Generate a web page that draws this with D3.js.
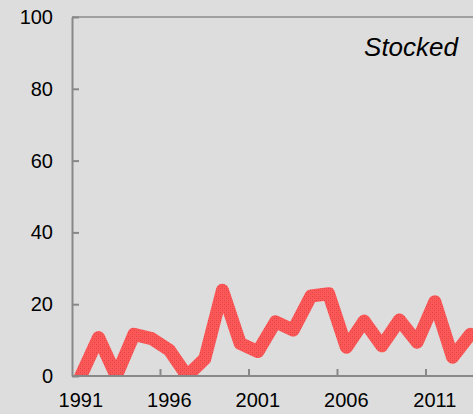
<!DOCTYPE html>
<html>
<head>
<meta charset="utf-8">
<script src="https://cdn.jsdelivr.net/npm/d3@7"></script>
<style>
  html, body { margin: 0; padding: 0; background: #dddddd; overflow: hidden; }
  svg { display: block; font-family: "Liberation Sans", Arial, sans-serif; }
</style>
</head>
<body>
<div id="chart"></div>
<script>
  // values
  var years = [1991, 1992, 1993, 1994, 1995, 1996, 1997, 1998, 1999, 2000, 2001, 2002,
               2003, 2004, 2005, 2006, 2007, 2008, 2009, 2010, 2011, 2012, 2013];
  var stocked = [0, 10.7, 0, 11.6, 10.4, 7.2, 0, 4.8, 23.9, 9.1, 6.8, 15.1,
                 12.8, 22.3, 22.9, 8, 15.3, 8.4, 15.6, 9.4, 20.7, 5.2, 11.6];
  var yTicks = [0, 20, 40, 60, 80, 100];
  var xLabelYears = [1991, 1996, 2001, 2006, 2011];
  var seriesLabel = "Stocked";

  (function () {
    var width = 473, height = 414;
    var plotLeft = 72, plotTop = 17, plotBottom = 376;
    var bandW = 17.7;

    var svg = d3.select('#chart').append('svg')
        .attr('width', width)
        .attr('height', height);

    svg.append('rect').attr('width', width).attr('height', height).attr('fill', '#dddddd');

    // dotted red fill used by the line
    var defs = svg.append('defs');
    var pat = defs.append('pattern')
        .attr('id', 'redDots')
        .attr('patternUnits', 'userSpaceOnUse')
        .attr('width', 4).attr('height', 4);
    pat.append('rect').attr('width', 4).attr('height', 4).attr('fill', '#ff5858');
    pat.append('rect').attr('x', 0).attr('y', 0).attr('width', 1).attr('height', 1).attr('fill', '#dc4646');
    pat.append('rect').attr('x', 2).attr('y', 2).attr('width', 1).attr('height', 1).attr('fill', '#dc4646');
    pat.append('rect').attr('x', 2).attr('y', 0).attr('width', 1).attr('height', 1).attr('fill', '#ee5050');
    pat.append('rect').attr('x', 0).attr('y', 2).attr('width', 1).attr('height', 1).attr('fill', '#ee5050');

    defs.append('clipPath').attr('id', 'plotClip')
      .append('rect')
        .attr('x', plotLeft).attr('y', 0)
        .attr('width', width).attr('height', plotBottom);

    var x = d3.scaleBand()
        .domain(years)
        .range([plotLeft, plotLeft + bandW * years.length]);

    var y = d3.scaleLinear()
        .domain([0, 100])
        .range([plotBottom, plotTop]);

    // top border of the plot area
    svg.append('line')
        .attr('x1', plotLeft).attr('x2', width + 10)
        .attr('y1', y(100)).attr('y2', y(100))
        .attr('stroke', '#a0a0a0')
        .attr('stroke-width', 2);

    var line = d3.line()
        .x((d, i) => x(years[i]) + x.bandwidth() / 2)
        .y(d => y(d));

    svg.append('g')
        .attr('clip-path', 'url(#plotClip)')
      .append('path')
        .datum(stocked)
        .attr('d', line)
        .attr('fill', 'none')
        .attr('stroke', 'url(#redDots)')
        .attr('stroke-width', 13)
        .attr('stroke-linejoin', 'round')
        .attr('stroke-linecap', 'round');

    // y axis, ticks pointing inwards
    var yAxis = svg.append('g')
        .attr('transform', 'translate(' + plotLeft + ',0)')
        .call(d3.axisLeft(y).tickValues(yTicks).tickSizeInner(-7).tickSizeOuter(0).tickPadding(19));
    yAxis.select('.domain').attr('stroke', '#888888').attr('stroke-width', 2);
    yAxis.selectAll('.tick line').attr('stroke', '#888888').attr('stroke-width', 2);
    yAxis.selectAll('.tick text')
        .attr('font-size', '20px')
        .attr('fill', '#000')
        .attr('font-family', '"Liberation Sans", Arial, sans-serif');

    // x axis: labels centred on categories, ticks on category edges
    var xAxis = svg.append('g')
        .attr('transform', 'translate(0,' + plotBottom + ')')
        .call(d3.axisBottom(x).tickValues(xLabelYears).tickSize(0).tickPadding(17));
    xAxis.select('.domain').attr('stroke', '#888888').attr('stroke-width', 2)
        .attr('d', 'M' + plotLeft + ',0H' + (width + 20));
    xAxis.selectAll('.tick text')
        .attr('font-size', '20px')
        .attr('fill', '#000')
        .attr('font-family', '"Liberation Sans", Arial, sans-serif');

    xAxis.selectAll('.edgeTick')
        .data(xLabelYears.slice(1))
        .enter().append('line')
        .attr('class', 'edgeTick')
        .attr('x1', d => x(d)).attr('x2', d => x(d))
        .attr('y1', 0).attr('y2', -7)
        .attr('stroke', '#888888')
        .attr('stroke-width', 2);

    svg.append('text')
        .attr('x', 458)
        .attr('y', 56)
        .attr('text-anchor', 'end')
        .attr('font-size', '26px')
        .attr('font-style', 'italic')
        .attr('fill', '#000')
        .text(seriesLabel);
  })();
</script>
</body>
</html>
